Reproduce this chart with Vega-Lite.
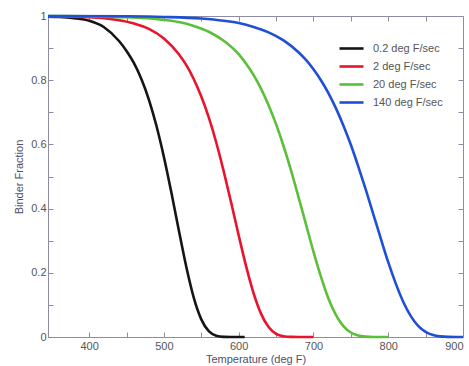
{
  "$schema": "https://vega.github.io/schema/vega-lite/v6.json",
  "width": 415,
  "height": 321,
  "autosize": "none",
  "padding": {"left": 48, "top": 16, "right": 6, "bottom": 29},
  "background": "white",
  "config": {
    "font": "Liberation Sans",
    "view": {"stroke": null},
    "axis": {
      "domainColor": "#8c8ca4",
      "tickColor": "#8c8ca4",
      "grid": false,
      "labelColor": "#555555",
      "labelFontSize": 11,
      "titleColor": "#4e4e6e",
      "titleFontSize": 11,
      "titleFontWeight": "normal",
      "tickSize": -5
    }
  },
  "data": {
    "values": [
      {"T": 345, "f": 0.998, "rate": "0.2 deg F/sec"},
      {"T": 360, "f": 0.997, "rate": "0.2 deg F/sec"},
      {"T": 380, "f": 0.993, "rate": "0.2 deg F/sec"},
      {"T": 400, "f": 0.985, "rate": "0.2 deg F/sec"},
      {"T": 420, "f": 0.965, "rate": "0.2 deg F/sec"},
      {"T": 440, "f": 0.922, "rate": "0.2 deg F/sec"},
      {"T": 450, "f": 0.891, "rate": "0.2 deg F/sec"},
      {"T": 460, "f": 0.853, "rate": "0.2 deg F/sec"},
      {"T": 470, "f": 0.803, "rate": "0.2 deg F/sec"},
      {"T": 480, "f": 0.739, "rate": "0.2 deg F/sec"},
      {"T": 490, "f": 0.658, "rate": "0.2 deg F/sec"},
      {"T": 500, "f": 0.561, "rate": "0.2 deg F/sec"},
      {"T": 510, "f": 0.450, "rate": "0.2 deg F/sec"},
      {"T": 520, "f": 0.332, "rate": "0.2 deg F/sec"},
      {"T": 530, "f": 0.218, "rate": "0.2 deg F/sec"},
      {"T": 540, "f": 0.122, "rate": "0.2 deg F/sec"},
      {"T": 550, "f": 0.055, "rate": "0.2 deg F/sec"},
      {"T": 560, "f": 0.018, "rate": "0.2 deg F/sec"},
      {"T": 570, "f": 0.004, "rate": "0.2 deg F/sec"},
      {"T": 580, "f": 0.0005, "rate": "0.2 deg F/sec"},
      {"T": 590, "f": 0, "rate": "0.2 deg F/sec"},
      {"T": 608, "f": 0, "rate": "0.2 deg F/sec"},

      {"T": 345, "f": 0.999, "rate": "2 deg F/sec"},
      {"T": 400, "f": 0.996, "rate": "2 deg F/sec"},
      {"T": 420, "f": 0.993, "rate": "2 deg F/sec"},
      {"T": 440, "f": 0.987, "rate": "2 deg F/sec"},
      {"T": 460, "f": 0.977, "rate": "2 deg F/sec"},
      {"T": 480, "f": 0.960, "rate": "2 deg F/sec"},
      {"T": 500, "f": 0.930, "rate": "2 deg F/sec"},
      {"T": 520, "f": 0.881, "rate": "2 deg F/sec"},
      {"T": 530, "f": 0.847, "rate": "2 deg F/sec"},
      {"T": 540, "f": 0.803, "rate": "2 deg F/sec"},
      {"T": 550, "f": 0.749, "rate": "2 deg F/sec"},
      {"T": 560, "f": 0.684, "rate": "2 deg F/sec"},
      {"T": 570, "f": 0.606, "rate": "2 deg F/sec"},
      {"T": 580, "f": 0.516, "rate": "2 deg F/sec"},
      {"T": 590, "f": 0.418, "rate": "2 deg F/sec"},
      {"T": 600, "f": 0.317, "rate": "2 deg F/sec"},
      {"T": 610, "f": 0.220, "rate": "2 deg F/sec"},
      {"T": 620, "f": 0.136, "rate": "2 deg F/sec"},
      {"T": 630, "f": 0.072, "rate": "2 deg F/sec"},
      {"T": 640, "f": 0.031, "rate": "2 deg F/sec"},
      {"T": 650, "f": 0.010, "rate": "2 deg F/sec"},
      {"T": 660, "f": 0.0024, "rate": "2 deg F/sec"},
      {"T": 670, "f": 0.0003, "rate": "2 deg F/sec"},
      {"T": 680, "f": 0, "rate": "2 deg F/sec"},
      {"T": 700, "f": 0, "rate": "2 deg F/sec"},

      {"T": 345, "f": 1.0, "rate": "20 deg F/sec"},
      {"T": 400, "f": 0.999, "rate": "20 deg F/sec"},
      {"T": 450, "f": 0.996, "rate": "20 deg F/sec"},
      {"T": 500, "f": 0.988, "rate": "20 deg F/sec"},
      {"T": 520, "f": 0.981, "rate": "20 deg F/sec"},
      {"T": 540, "f": 0.969, "rate": "20 deg F/sec"},
      {"T": 560, "f": 0.951, "rate": "20 deg F/sec"},
      {"T": 580, "f": 0.923, "rate": "20 deg F/sec"},
      {"T": 600, "f": 0.881, "rate": "20 deg F/sec"},
      {"T": 610, "f": 0.851, "rate": "20 deg F/sec"},
      {"T": 620, "f": 0.816, "rate": "20 deg F/sec"},
      {"T": 630, "f": 0.773, "rate": "20 deg F/sec"},
      {"T": 640, "f": 0.722, "rate": "20 deg F/sec"},
      {"T": 650, "f": 0.663, "rate": "20 deg F/sec"},
      {"T": 660, "f": 0.595, "rate": "20 deg F/sec"},
      {"T": 670, "f": 0.519, "rate": "20 deg F/sec"},
      {"T": 680, "f": 0.436, "rate": "20 deg F/sec"},
      {"T": 690, "f": 0.351, "rate": "20 deg F/sec"},
      {"T": 700, "f": 0.266, "rate": "20 deg F/sec"},
      {"T": 710, "f": 0.188, "rate": "20 deg F/sec"},
      {"T": 720, "f": 0.120, "rate": "20 deg F/sec"},
      {"T": 730, "f": 0.069, "rate": "20 deg F/sec"},
      {"T": 740, "f": 0.034, "rate": "20 deg F/sec"},
      {"T": 750, "f": 0.014, "rate": "20 deg F/sec"},
      {"T": 760, "f": 0.0045, "rate": "20 deg F/sec"},
      {"T": 770, "f": 0.0011, "rate": "20 deg F/sec"},
      {"T": 780, "f": 0.0001, "rate": "20 deg F/sec"},
      {"T": 800, "f": 0, "rate": "20 deg F/sec"},

      {"T": 345, "f": 1.0, "rate": "140 deg F/sec"},
      {"T": 450, "f": 0.999, "rate": "140 deg F/sec"},
      {"T": 500, "f": 0.997, "rate": "140 deg F/sec"},
      {"T": 550, "f": 0.992, "rate": "140 deg F/sec"},
      {"T": 580, "f": 0.985, "rate": "140 deg F/sec"},
      {"T": 600, "f": 0.978, "rate": "140 deg F/sec"},
      {"T": 620, "f": 0.966, "rate": "140 deg F/sec"},
      {"T": 640, "f": 0.949, "rate": "140 deg F/sec"},
      {"T": 660, "f": 0.924, "rate": "140 deg F/sec"},
      {"T": 680, "f": 0.887, "rate": "140 deg F/sec"},
      {"T": 690, "f": 0.863, "rate": "140 deg F/sec"},
      {"T": 700, "f": 0.834, "rate": "140 deg F/sec"},
      {"T": 710, "f": 0.800, "rate": "140 deg F/sec"},
      {"T": 720, "f": 0.760, "rate": "140 deg F/sec"},
      {"T": 730, "f": 0.713, "rate": "140 deg F/sec"},
      {"T": 740, "f": 0.659, "rate": "140 deg F/sec"},
      {"T": 750, "f": 0.599, "rate": "140 deg F/sec"},
      {"T": 760, "f": 0.531, "rate": "140 deg F/sec"},
      {"T": 770, "f": 0.459, "rate": "140 deg F/sec"},
      {"T": 780, "f": 0.383, "rate": "140 deg F/sec"},
      {"T": 790, "f": 0.307, "rate": "140 deg F/sec"},
      {"T": 800, "f": 0.233, "rate": "140 deg F/sec"},
      {"T": 810, "f": 0.167, "rate": "140 deg F/sec"},
      {"T": 820, "f": 0.110, "rate": "140 deg F/sec"},
      {"T": 830, "f": 0.066, "rate": "140 deg F/sec"},
      {"T": 840, "f": 0.035, "rate": "140 deg F/sec"},
      {"T": 850, "f": 0.016, "rate": "140 deg F/sec"},
      {"T": 860, "f": 0.006, "rate": "140 deg F/sec"},
      {"T": 870, "f": 0.0019, "rate": "140 deg F/sec"},
      {"T": 880, "f": 0.0004, "rate": "140 deg F/sec"},
      {"T": 890, "f": 0, "rate": "140 deg F/sec"},
      {"T": 900, "f": 0, "rate": "140 deg F/sec"}
    ]
  },
  "layer": [
    {
      "mark": {"type": "point", "opacity": 0},
      "encoding": {
        "x": {
          "field": "T", "type": "quantitative",
          "scale": {"domain": [345, 900], "nice": false, "zero": false},
          "axis": {"orient": "top", "labels": false, "title": null,
                   "values": [400, 450, 500, 550, 600, 650, 700, 750, 800, 850, 900]}
        },
        "y": {
          "field": "f", "type": "quantitative",
          "scale": {"domain": [0, 1], "nice": false},
          "axis": {"orient": "right", "labels": false, "title": null,
                   "values": [0, 0.1, 0.2, 0.3, 0.4, 0.5, 0.6, 0.7, 0.8, 0.9, 1]}
        }
      }
    },
    {
      "mark": {"type": "line", "strokeWidth": 2.6, "interpolate": "monotone"},
      "encoding": {
        "x": {
          "field": "T", "type": "quantitative",
          "scale": {"domain": [345, 900], "nice": false, "zero": false},
          "axis": {"orient": "bottom", "title": "Temperature (deg F)",
                   "values": [400, 450, 500, 550, 600, 650, 700, 750, 800, 850, 900],
                   "labelExpr": "datum.value % 100 == 0 ? datum.label : ''",
                   "labelPadding": 8, "titlePadding": 2}
        },
        "y": {
          "field": "f", "type": "quantitative",
          "scale": {"domain": [0, 1], "nice": false},
          "axis": {"orient": "left", "title": "Binder Fraction", "format": "~g",
                   "values": [0, 0.1, 0.2, 0.3, 0.4, 0.5, 0.6, 0.7, 0.8, 0.9, 1],
                   "labelExpr": "round(datum.value*10) % 2 == 0 ? datum.label : ''",
                   "labelPadding": 7, "titlePadding": 6}
        },
        "color": {
          "field": "rate", "type": "nominal",
          "scale": {
            "domain": ["0.2 deg F/sec", "2 deg F/sec", "20 deg F/sec", "140 deg F/sec"],
            "range": ["#151515", "#e8142c", "#5cbf3a", "#1f4fd6"]
          },
          "legend": {
            "title": null,
            "orient": "none",
            "legendX": 296,
            "legendY": 25,
            "symbolType": "M-2,0L2,0",
            "symbolSize": 144,
            "symbolStrokeWidth": 2.6,
            "labelOffset": 14,
            "labelFontSize": 11,
            "labelColor": "#555555",
            "rowPadding": 5
          }
        }
      }
    }
  ],
  "resolve": {"axis": {"x": "independent", "y": "independent"}}
}
